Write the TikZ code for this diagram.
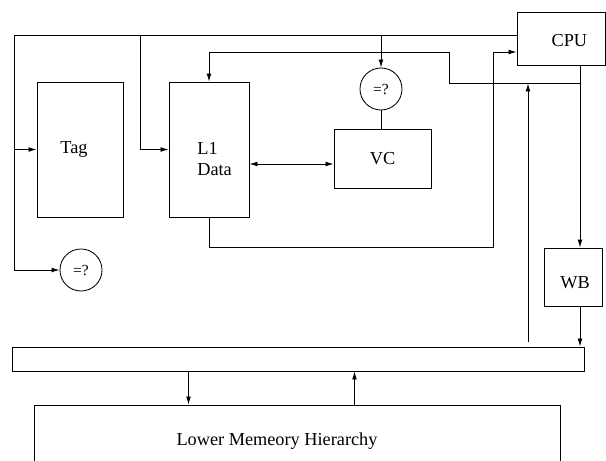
\documentclass[tikz,border=0pt]{standalone}
\usepackage{fontspec}
\setmainfont{Liberation Serif}
\usetikzlibrary{arrows.meta,calc,positioning}
\tikzset{
  blk/.style={draw, rectangle, line width=0.6pt, inner sep=0pt},
  cmp/.style={circle, draw, line width=0.6pt, minimum size=1.05cm,
             inner sep=0pt, font=\fontsize{11}{13}\selectfont},
  wire/.style={line width=0.6pt, line join=miter},
  arr/.style={wire, -{Latex[length=2mm,width=1.2mm]}},
  dbl/.style={wire, {Latex[length=2mm,width=1.2mm]}-{Latex[length=2mm,width=1.2mm]}},
  lab/.style={font=\fontsize{13}{15}\selectfont},
}

\begin{document}
\begin{tikzpicture}[x=0.025cm, y=-0.025cm]
\path[use as bounding box, clip] (0,0) rectangle (606,461);
% ---------------------------------------------------------------- blocks
\node[blk, minimum width=2.15cm, minimum height=3.375cm,
      label={[lab, xshift=-0.15cm]center:Tag}] (tag) at (80,149.5) {};
\node[blk, minimum width=2.0cm, minimum height=3.375cm,
      label={[lab, align=left, xshift=0.14cm, yshift=-0.24cm]center:L1\\Data}] (l1) at (209,149.5) {};
\node[blk, lab, minimum width=2.425cm, minimum height=1.475cm] (vc) at (382.5,158.5) {VC};
\node[blk, minimum width=2.2cm, minimum height=1.325cm,
      label={[lab, xshift=0.21cm, yshift=-0.05cm]center:CPU}] (cpu) at (561,38.5) {};
\node[blk, minimum width=1.45cm, minimum height=1.45cm,
      label={[lab, xshift=0.05cm, yshift=-0.15cm]center:WB}] (wb) at (573,277) {};
\node[cmp] (cmpA) at (381,89) {=?};
\node[cmp] (cmpB) at (81,270) {=?};
\node[blk, minimum width=14.3cm, minimum height=0.6cm] (bus) at (298,359) {};
\node[blk, minimum width=13.15cm, minimum height=3cm] (lower) at (297,465) {};
\node[lab] (lowtxt) at ($(lower.north)+(-20,37)$) {Lower Memeory Hierarchy};
% ---------------------------------------------------------------- address lines
\coordinate (addr) at ($(cpu.west)+(0,-3.5)$);
\coordinate (al) at (14,35);
\coordinate (am) at (140,35);
\draw[arr] (addr) -- (al) |- (cmpB.west);
\draw[arr] (al |- tag.west) -- (tag.west);
\draw[arr] (am) |- (l1.west);
\draw[arr] (cmpA.north |- addr) -- (cmpA.north);
\draw[wire] (cmpA.south) -- (cmpA.south |- vc.north);
% ---------------------------------------------------------------- L1 <-> VC
\coordinate (l1vc) at ($(l1.east)+(0,14.5)$);
\draw[dbl] (l1vc) -- (l1vc -| vc.west);
% ---------------------------------------------------------------- write path
\coordinate (cpuout) at ($(cpu.south)+(19,0)$);
\coordinate (wd) at ($(cpuout)+(0,18)$);
\coordinate (wj) at (449,52);
\draw[arr] (cpuout) -- (cpuout |- wb.north);
\draw[arr] (wd) -| (wj) -| (l1.north);
% ---------------------------------------------------------------- read path
\coordinate (rj) at (493,247);
\draw[arr] (l1.south) |- (rj) |- ($(cpu.west)+(0,13.5)$);
% ---------------------------------------------------------------- fill and bus
\coordinate (fill) at (528,342);
\draw[arr] (fill) -- (fill |- wd);
\draw[arr] (cpuout |- wb.south) -- (cpuout |- bus.north);
\coordinate (dn) at ($(bus.south west)+(177,0)$);
\coordinate (up) at ($(lower.north west)+(321,0)$);
\draw[arr] (dn) -- (dn |- lower.north);
\draw[arr] (up) -- (up |- bus.south);
\end{tikzpicture}
\end{document}
